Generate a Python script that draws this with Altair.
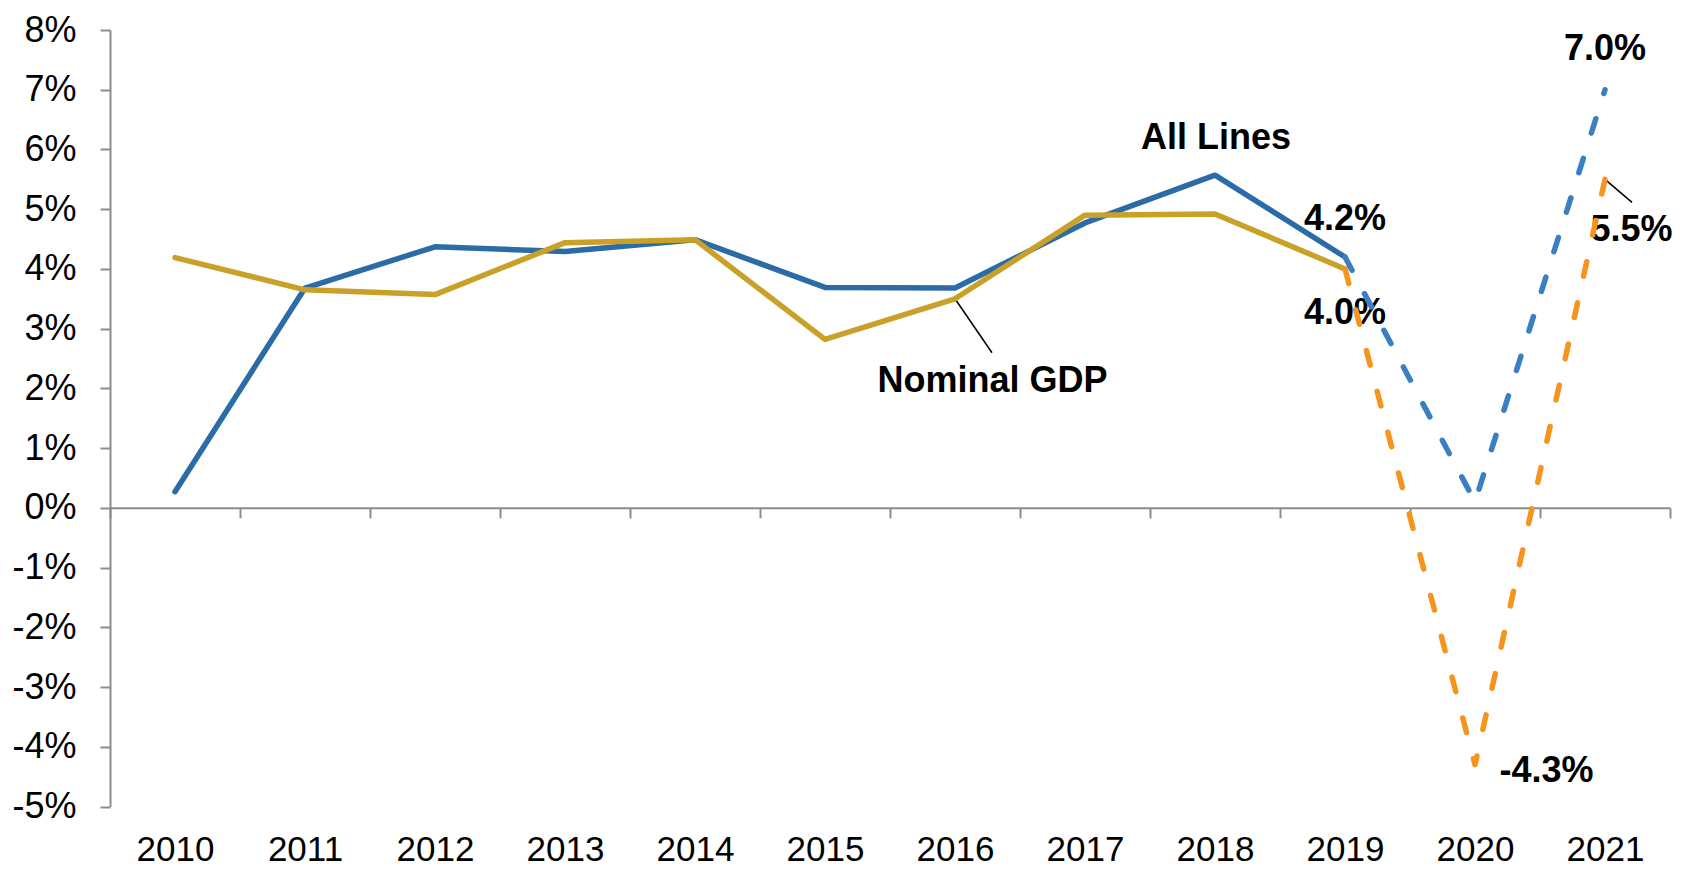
import altair as alt
import pandas as pd

# ---- data ----
years = [2010, 2011, 2012, 2013, 2014, 2015, 2016, 2017, 2018, 2019, 2020, 2021]
all_lines = [0.27, 3.68, 4.37, 4.29, 4.49, 3.69, 3.68, 4.77, 5.57, 4.2, 0.1, 7.0]
nominal_gdp = [4.19, 3.65, 3.57, 4.44, 4.49, 2.82, 3.50, 4.90, 4.92, 4.0, -4.3, 5.5]
series_names = ["All Lines", "Nominal GDP"]
last_actual = 2019
y_ticks = [-5, -4, -3, -2, -1, 0, 1, 2, 3, 4, 5, 6, 7, 8]

FONT = "Liberation Sans"
BLUE = "#2B6CA6"
BLUE_F = "#3A7FC2"
GOLD = "#C9A128"
ORANGE = "#F7941D"
GRAY = "#8C8C8C"
W, H = 1560, 776.5
FS = 36

rows = []
for yr, a, g in zip(years, all_lines, nominal_gdp):
    rows.append({"year": yr, "series": series_names[0], "value": a})
    rows.append({"year": yr, "series": series_names[1], "value": g})
df = pd.DataFrame(rows)

x_scale = alt.Scale(domain=[years[0] - 0.5, years[-1] + 0.5], nice=False, zero=False)
y_scale = alt.Scale(domain=[y_ticks[0], y_ticks[-1]], nice=False, zero=False)

y_axis = alt.Axis(values=y_ticks, labelExpr="datum.value + '%'", labelFontSize=FS,
                  labelFont=FONT, labelColor="black", tickSize=10, tickColor=GRAY,
                  tickWidth=2, domainColor=GRAY, domainWidth=2, grid=False,
                  labelPadding=24, title="")
y_enc = alt.Y("value:Q", scale=y_scale, axis=y_axis)

label_axis = alt.Axis(orient="bottom", values=years, format="d", labelFontSize=35,
                      labelFont=FONT, labelColor="black", domain=False, ticks=False,
                      tickSize=0, labelPadding=26, grid=False, title="")

bounds = [yr - 0.5 for yr in years] + [years[-1] + 0.5]
zero_offset = -H * (0 - y_ticks[0]) / (y_ticks[-1] - y_ticks[0])
tick_axis = alt.Axis(orient="bottom", values=bounds, labels=False, domain=True,
                     domainColor=GRAY, domainWidth=2, ticks=True, tickSize=10,
                     tickColor=GRAY, tickWidth=2, grid=False, offset=zero_offset,
                     title="")


def xenc(axis=None):
    if axis is None:
        return alt.X("year:Q", scale=x_scale, axis=None)
    return alt.X("year:Q", scale=x_scale, axis=axis)


# zero axis with category separators
zero_df = pd.DataFrame({"year": [years[0]], "value": [0]})
zero_layer = alt.Chart(zero_df).mark_point(opacity=0).encode(x=xenc(tick_axis), y=y_enc)


def sub(series, lo, hi):
    d = df[(df.series == series) & (df.year >= lo) & (df.year <= hi)]
    return d


def line(series, lo, hi, color, dash=None, axis=None):
    props = dict(color=color, strokeWidth=5.5, strokeCap="round", strokeJoin="round")
    if dash:
        props["strokeDash"] = dash
    return alt.Chart(sub(series, lo, hi)).mark_line(**props).encode(x=xenc(axis), y=y_enc)


def point_df(series, yr, text):
    vals = all_lines if series == series_names[0] else nominal_gdp
    v = vals[years.index(yr)]
    return pd.DataFrame({"year": [yr], "value": [v], "text": [text if text else f"{v:.1f}%"]})


def label(series, yr, dx, dy, text=None):
    return alt.Chart(point_df(series, yr, text)).mark_text(
        font=FONT, fontSize=FS, fontWeight="bold", color="black", align="center",
        baseline="alphabetic", dx=dx, dy=dy).encode(x=xenc(), y=y_enc, text="text:N")


def leader(series, yr, ox, oy):
    return alt.Chart(point_df(series, yr, "")).mark_rule(
        color="black", strokeWidth=1.5, x2Offset=ox, y2Offset=oy).encode(
        x=xenc(), x2="year:Q", y=y_enc, y2="value:Q")


labels = [
    label(series_names[0], 2018, 1, -26, text=series_names[0]),
    label(series_names[1], 2016, 37.5, 93, text=series_names[1]),
    label(series_names[0], 2019, 0, -27),
    label(series_names[1], 2019, 0, 55),
    label(series_names[1], 2020, 71.5, 17),
    label(series_names[0], 2021, 0, -30),
    label(series_names[1], 2021, 26.5, 62),
]
leaders = [
    leader(series_names[1], 2016, 37, 54),
    leader(series_names[1], 2021, 27, 23),
]

lines = [
    line(series_names[0], years[0], last_actual, BLUE, axis=label_axis),
    line(series_names[1], years[0], last_actual, GOLD),
    line(series_names[0], last_actual, years[-1], BLUE_F, dash=[15, 26.5]),
    line(series_names[1], last_actual, years[-1], ORANGE, dash=[15, 27.2]),
]

chart = alt.layer(zero_layer, *labels, *leaders, *lines).resolve_axis(
    x="independent"
).properties(
    width=W, height=H,
    autosize=alt.AutoSizeParams(type="none"),
    padding={"left": 102, "top": 22, "right": 14, "bottom": 62},
    background="white",
).configure_view(strokeWidth=0)

chart.save("out.html", embed_options={"renderer": "svg", "actions": False})
